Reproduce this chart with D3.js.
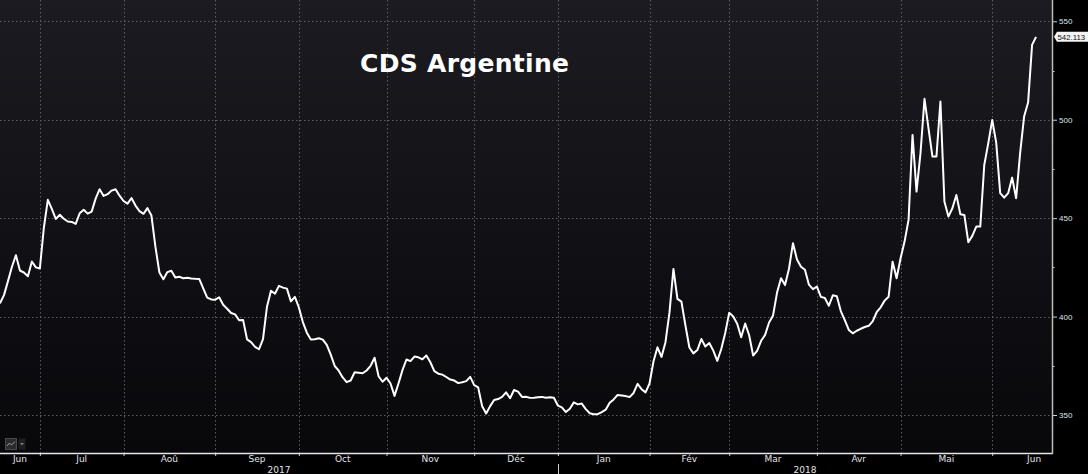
<!DOCTYPE html>
<html>
<head>
<meta charset="utf-8">
<script src="https://cdn.jsdelivr.net/npm/d3@7"></script>
<style>
  html, body { margin: 0; background: #000; overflow: hidden; }
  svg { display: block; }
</style>
</head>
<body>
<svg id="chart"></svg>
<script>
const chartTitle = "CDS Argentine";
const firstSession = new Date(2017, 5, 19);
const calendarEnd = new Date(2018, 6, 3);
const monthNames = ["Jan", "Fév", "Mar", "Avr", "Mai", "Jun", "Jul", "Aoû", "Sep", "Oct", "Nov", "Déc"];
const yTicks = [350, 400, 450, 500, 550];
const yMinorTicks = [375, 425, 475, 525];
const lastLabel = "542.113";

// one value per trading day, from 19 Jun 2017 to 18 Jun 2018
const cdsValues = [
  406.7, 410.9, 418.0, 425.3, 431.2, 423.4, 422.4, 420.5, 428.0, 425.0,
  424.4, 445.0, 459.3, 454.7, 449.6, 451.7, 449.7, 448.3, 448.1, 447.1,
  452.5, 454.3, 452.3, 453.3, 459.9, 464.7, 461.3, 462.2, 464.0, 464.7,
  461.4, 458.7, 457.4, 460.2, 456.4, 453.6, 452.2, 455.1, 451.3, 435.5,
  422.4, 419.0, 422.6, 423.3, 419.8, 420.2, 419.5, 419.7, 419.4, 419.2,
  419.1, 414.3, 409.6, 408.7, 408.6, 409.8, 406.0, 404.0, 401.8, 401.1,
  398.1, 398.3, 388.4, 387.0, 384.6, 383.4, 388.5, 405.0, 413.1, 411.6,
  415.6, 414.7, 414.2, 407.7, 410.0, 404.6, 397.2, 391.8, 388.4, 388.5,
  389.0, 388.3, 385.6, 380.7, 374.9, 372.5, 369.1, 366.7, 367.5, 371.7,
  371.5, 371.2, 372.6, 375.0, 379.1, 369.7, 366.9, 368.9, 366.0, 359.7,
  366.0, 372.8, 378.2, 377.4, 379.7, 379.3, 378.3, 380.2, 376.8, 372.3,
  371.0, 370.5, 369.3, 368.0, 367.5, 366.2, 366.6, 367.2, 369.4, 365.2,
  364.0, 354.4, 350.8, 354.5, 357.6, 358.1, 359.2, 361.5, 358.5, 362.7,
  361.9, 359.2, 359.3, 358.7, 358.8, 359.0, 359.2, 358.8, 359.0, 358.8,
  354.8, 353.9, 351.5, 353.2, 356.4, 355.4, 355.8, 353.0, 350.9, 350.4,
  350.4, 351.5, 352.7, 356.2, 357.9, 360.2, 359.9, 359.6, 359.1, 361.2,
  365.8, 363.1, 361.5, 366.0, 377.3, 384.4, 379.5, 387.0, 402.0, 424.2,
  409.0, 407.6, 395.6, 384.3, 381.3, 383.0, 388.6, 384.8, 386.6, 382.7,
  377.5, 383.5, 391.7, 402.0, 400.0, 396.4, 389.5, 396.5, 390.5, 380.2,
  382.6, 387.7, 390.7, 397.0, 400.6, 412.2, 419.5, 416.0, 424.3, 437.3,
  429.0, 425.3, 423.8, 416.2, 413.9, 415.2, 410.0, 409.4, 405.5, 410.8,
  410.3, 402.8, 398.2, 393.2, 391.5, 392.8, 393.8, 394.7, 395.3, 397.6,
  402.2, 404.7, 408.1, 410.1, 427.9, 419.5, 429.6, 438.1, 449.1, 492.3,
  463.5, 483.0, 510.6, 495.7, 481.3, 481.3, 509.2, 458.4, 450.8, 455.0,
  461.8, 452.0, 451.6, 437.8, 441.0, 445.7, 445.7, 477.0, 488.0, 499.9,
  488.4, 462.7, 460.4, 462.7, 470.6, 460.1, 483.0, 501.6, 508.7, 538.0,
  542.113
];

const width = 1088;
const height = 474;
const plotRight = 1052;
const plotBottom = 453;

const svg = d3.select("#chart").attr("width", width).attr("height", height);

// trading-day calendar used for the time axis
const sessions = d3.timeDay.range(firstSession, calendarEnd)
  .filter((d) => d.getDay() !== 0 && d.getDay() !== 6);

const x = d3.scaleLinear().domain([0, 264]).range([0, plotRight]);
const y = d3.scaleLinear().domain([350, 550]).range([415, 21.3]);

// month blocks
const months = [];
sessions.forEach((d, i) => {
  const last = months[months.length - 1];
  if (!last || last.month !== d.getMonth()) {
    if (last) last.end = i;
    months.push({ month: d.getMonth(), year: d.getFullYear(), start: i, end: sessions.length });
  }
});
months[0].start = 0;
const monthTicks = months.slice(1).map((m) => m.start).filter((i) => x(i) < plotRight);

// background
const defs = svg.append("defs");
const grad = defs.append("linearGradient").attr("id", "bg")
  .attr("x1", 0).attr("y1", 0).attr("x2", 0).attr("y2", 1);
grad.append("stop").attr("offset", "0%").attr("stop-color", "#1b1b21");
grad.append("stop").attr("offset", "100%").attr("stop-color", "#08080b");

svg.append("rect").attr("width", width).attr("height", height).attr("fill", "#000");
svg.append("rect").attr("x", 0).attr("y", 0)
  .attr("width", plotRight).attr("height", plotBottom).attr("fill", "url(#bg)");

// grid
const grid = svg.append("g").attr("stroke", "#5c5c62").attr("stroke-width", 1)
  .attr("stroke-dasharray", "1.5,2.5");
grid.selectAll(".hg").data(yTicks).join("line")
  .attr("x1", 0).attr("x2", plotRight)
  .attr("y1", (d) => Math.round(y(d)) + 0.5).attr("y2", (d) => Math.round(y(d)) + 0.5);
grid.selectAll(".vg").data(monthTicks).join("line")
  .attr("x1", (d) => Math.round(x(d)) + 0.5).attr("x2", (d) => Math.round(x(d)) + 0.5)
  .attr("y1", 0).attr("y2", plotBottom);

// title
svg.append("text")
  .attr("x", 360).attr("y", 72)
  .attr("fill", "#fff")
  .attr("font-family", "'DejaVu Sans', Verdana, sans-serif")
  .attr("font-weight", "bold")
  .attr("font-size", 25)
  .attr("letter-spacing", 0.3)
  .text(chartTitle);

// line
const line = d3.line().x((d, i) => x(i)).y((d) => y(d));
svg.append("path")
  .datum(cdsValues)
  .attr("d", line)
  .attr("fill", "none")
  .attr("stroke", "#ffffff")
  .attr("stroke-width", 2)
  .attr("stroke-linejoin", "round");

// bottom axis
const xAxis = d3.axisBottom(x).tickValues(monthTicks).tickSize(3).tickFormat("");
const gx = svg.append("g").attr("transform", `translate(0,${plotBottom})`).call(xAxis);
gx.select(".domain").remove();
gx.selectAll(".tick line").attr("stroke", "#cfcfcf");
svg.append("line")
  .attr("x1", 0).attr("x2", plotRight + 1)
  .attr("y1", plotBottom + 0.5).attr("y2", plotBottom + 0.5)
  .attr("stroke", "#e6e6e6").attr("stroke-width", 1.5);

const labelFont = "'DejaVu Sans', Tahoma, sans-serif";
const numberFont = "'Liberation Sans', Arial, sans-serif";
svg.append("g").selectAll("text")
  .data(months.filter((m) => (x(m.start) + x(m.end)) / 2 < plotRight))
  .join("text")
  .attr("x", (m) => (x(m.start) + x(m.end)) / 2)
  .attr("y", 462)
  .attr("text-anchor", "middle")
  .attr("fill", "#e2e4ea")
  .attr("font-family", labelFont)
  .attr("font-size", 9)
  .text((m) => monthNames[m.month]);

// years
const years = d3.groups(months.filter((m) => x(m.start) < plotRight), (m) => m.year)
  .map(([yr, ms]) => ({
    year: yr,
    x0: x(ms[0].start),
    x1: Math.min(plotRight, x(ms[ms.length - 1].end))
  }));
svg.append("g").selectAll("text").data(years).join("text")
  .attr("x", (d) => (d.x0 + d.x1) / 2)
  .attr("y", 473)
  .attr("text-anchor", "middle")
  .attr("fill", "#e2e4ea")
  .attr("font-family", labelFont)
  .attr("font-size", 9)
  .text((d) => d.year);
svg.append("g").selectAll("line").data(years.slice(1)).join("line")
  .attr("x1", (d) => Math.round(d.x0) + 0.5).attr("x2", (d) => Math.round(d.x0) + 0.5)
  .attr("y1", 464).attr("y2", height)
  .attr("stroke", "#cfcfcf");

// right axis
const yAxis = d3.axisRight(y).tickValues(yTicks).tickSize(5).tickPadding(2).tickFormat(d3.format("d"));
const gy = svg.append("g").attr("transform", `translate(${plotRight},0)`).call(yAxis);
gy.select(".domain").remove();
gy.selectAll(".tick line").attr("stroke", "#cfcfcf");
gy.selectAll(".tick text")
  .attr("fill", "#dfe3ee")
  .attr("font-family", numberFont)
  .attr("font-size", 8);
svg.append("g").selectAll("line").data(yMinorTicks).join("line")
  .attr("x1", plotRight).attr("x2", plotRight + 2.5)
  .attr("y1", (d) => Math.round(y(d)) + 0.5).attr("y2", (d) => Math.round(y(d)) + 0.5)
  .attr("stroke", "#cfcfcf");
svg.append("line")
  .attr("x1", plotRight + 0.5).attr("x2", plotRight + 0.5)
  .attr("y1", 0).attr("y2", plotBottom + 1)
  .attr("stroke", "#bdbdbd").attr("stroke-width", 1.5);

// last value tag
const lastY = y(cdsValues[cdsValues.length - 1]);
svg.append("path")
  .attr("d", `M${plotRight + 2},${lastY} L${plotRight + 5},${lastY - 5} L${width},${lastY - 5} L${width},${lastY + 5} L${plotRight + 5},${lastY + 5} Z`)
  .attr("fill", "#f4f4f4");
svg.append("text")
  .attr("x", plotRight + 5.5).attr("y", lastY + 2.8)
  .attr("fill", "#111")
  .attr("font-family", numberFont)
  .attr("font-size", 7.8)
  .text(lastLabel);

// small chart-type control, bottom left
const ctl = svg.append("g");
ctl.append("rect").attr("x", 5.5).attr("y", 438.5).attr("width", 11).attr("height", 11)
  .attr("fill", "#2b2b2e").attr("stroke", "#4a4a4e");
ctl.append("path").attr("d", "M7,446 L9.5,443 L11.5,445 L15,441.5")
  .attr("fill", "none").attr("stroke", "#9a9aa0").attr("stroke-width", 1);
ctl.append("rect").attr("x", 18.5).attr("y", 438.5).attr("width", 7).attr("height", 11)
  .attr("fill", "#1e1e21");
ctl.append("path").attr("d", "M20,443 L24,443 L22,445.5 Z").attr("fill", "#7a7a80");
</script>
</body>
</html>
